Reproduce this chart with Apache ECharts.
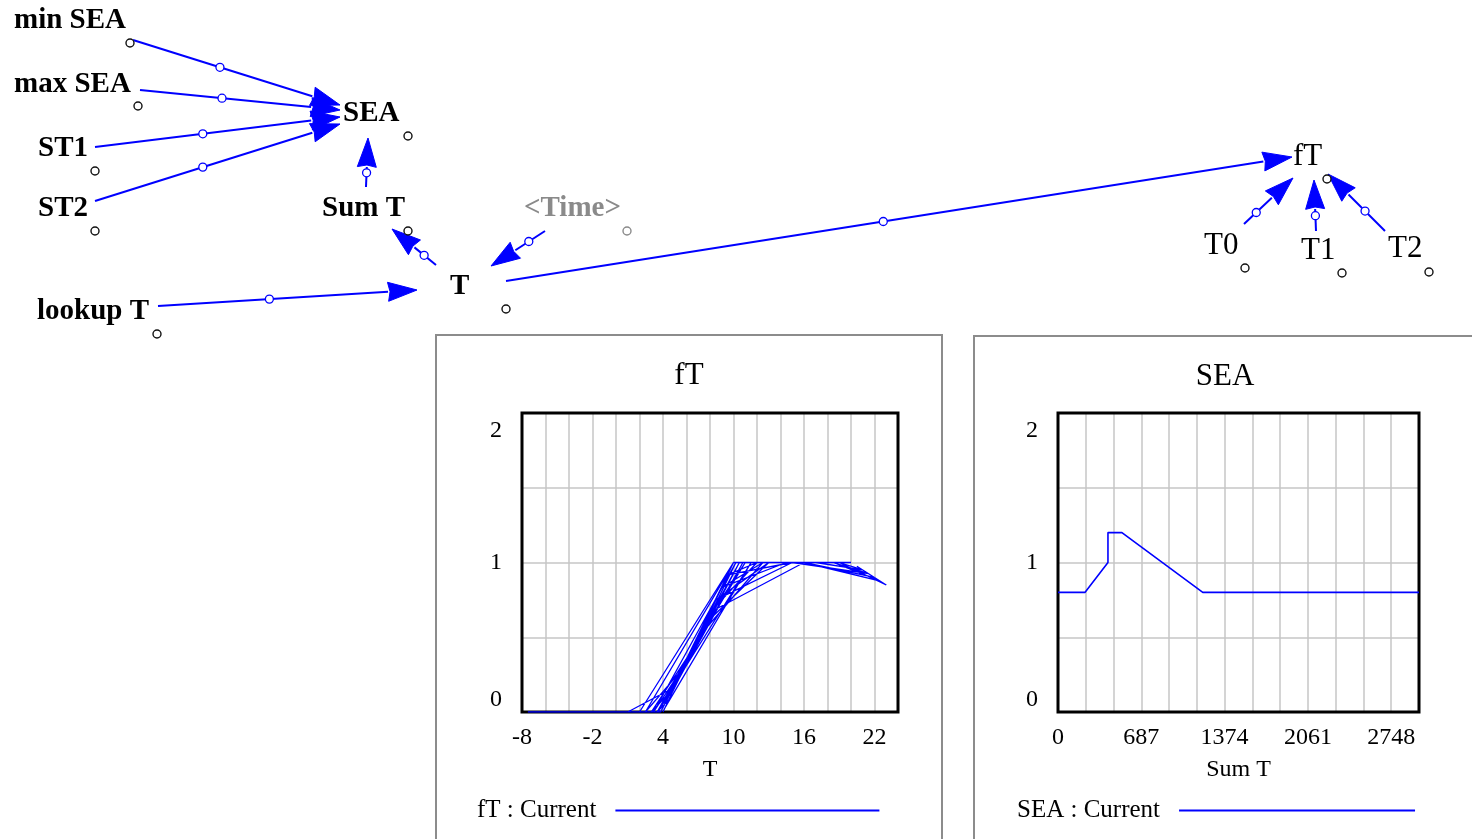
<!DOCTYPE html>
<html>
<head>
<meta charset="utf-8">
<title>fT and SEA</title>
<script src="https://cdn.jsdelivr.net/npm/echarts@6/dist/echarts.min.js"></script>
<style>
  html, body { margin: 0; padding: 0; background: #ffffff; }
  #chart { width: 1472px; height: 839px; }
</style>
</head>
<body>
<div id="chart"></div>
<script>
// fT against T: consecutive simulation steps, joined in time order
const fTTemps = [-7.5, -5.5, -4, -2, -3, 0, -1, 1.5, 3, 2, 10, 5, 3.5, 7, 4.5, 9, 5.5, 10.5, 6, 8,
  4, 6.5, 11, 7.5, 13, 8.5, 15, 9.5, 12, 8, 16, 10, 14, 18, 15.5, 20, 17, 21, 19, 23,
  20.5, 22, 16, 22.5, 18.5, 21.5, 15, 19.5, 13, 17.5, 11.5, 14.5, 9, 12.5, 7, 10.5, 6, 9.5, 5, 7.5,
  4, 6.5, 3, 5, 1, 3.5, 4.5, 10, 3.8, 8.5, 4.2, 11.5, 5.5, 9, 4.8, 10.2, 3.2, 6, 4.4, 7.2,
  3.6, 10.8, 5.2, 8.2, 4.6, 9.8, 2.5, 5.8, 3.8, 1, -1, -3, -6];
const fTValues = [0, 0, 0, 0, 0, 0, 0, 0, 0, 0, 1, 0.167, 0, 0.5, 0.083, 0.833, 0.25, 1, 0.333, 0.667,
  0, 0.417, 1, 0.583, 1, 0.75, 1, 0.917, 1, 0.667, 1, 1, 1, 1, 1, 1, 1, 0.95, 1, 0.85,
  0.975, 0.9, 1, 0.875, 1, 0.925, 1, 1, 1, 1, 1, 1, 0.833, 1, 0.5, 1, 0.333, 0.917, 0.167, 0.583,
  0, 0.417, 0, 0.167, 0, 0, 0.083, 1, 0, 0.75, 0.033, 1, 0.25, 0.833, 0.133, 1, 0, 0.333, 0.067, 0.533,
  0, 1, 0.2, 0.7, 0.1, 0.967, 0, 0.3, 0, 0, 0, 0, 0];

// SEA against accumulated temperature Sum T
const sumT = [0, 222, 412, 412, 527, 1194, 2977];
const seaValues = [0.8, 0.8, 1.0, 1.2, 1.2, 0.8, 0.8];

// axis labels
const fTLabelTicks = [-8, -2, 4, 10, 16, 22];
const sumTLabelTicks = [0, 687, 1374, 2061, 2748];
const yLabelTicks = [0, 1, 2];

// --- stock-and-flow diagram layout (screen pixels) ---
const SERIF = '"Liberation Serif", "Times New Roman", serif';
const BLUE = '#0000ff';

const diagramLabels = [
  { text: 'min SEA', x: 14, y: 21, bold: true },
  { text: 'max SEA', x: 14, y: 85, bold: true },
  { text: 'ST1', x: 38, y: 149, bold: true },
  { text: 'ST2', x: 38, y: 209, bold: true },
  { text: 'SEA', x: 343, y: 114, bold: true },
  { text: 'Sum T', x: 322, y: 209, bold: true },
  { text: '<Time>', x: 524, y: 209, bold: true, color: '#8a8a8a' },
  { text: 'T', x: 450, y: 287, bold: true },
  { text: 'lookup T', x: 37, y: 312, bold: true },
  { text: 'fT', x: 1293, y: 157, bold: false },
  { text: 'T0', x: 1204, y: 246, bold: false },
  { text: 'T1', x: 1301, y: 251, bold: false },
  { text: 'T2', x: 1388, y: 249, bold: false }
];

const nodeMarkers = [
  [130, 43], [138, 106], [95, 171], [95, 231], [408, 136], [408, 231],
  [506, 309], [157, 334], [1245, 268], [1342, 273], [1429, 272], [1327, 179]
];
const shadowMarkers = [[627, 231]];

const links = [
  { from: [133, 40], to: [340, 105], t: 0.42 },
  { from: [140, 90], to: [340, 110], t: 0.41 },
  { from: [95, 147], to: [340, 117], t: 0.44 },
  { from: [95, 201], to: [340, 124], t: 0.44 },
  { from: [366, 187], to: [368, 138], t: 0.29 },
  { from: [436, 265], to: [392, 229], t: 0.27 },
  { from: [545, 231], to: [491, 266], t: 0.30 },
  { from: [158, 306], to: [417, 290], t: 0.43 },
  { from: [506, 281], to: [1292, 157], t: 0.48 },
  { from: [1244, 224], to: [1293, 178], t: 0.25 },
  { from: [1316, 231], to: [1314, 180], t: 0.30 },
  { from: [1385, 231], to: [1328, 174], t: 0.35 }
];

// plot frames (same boxes as the grids below)
const plotBoxes = [
  { x: 522, y: 413, width: 376, height: 299 },
  { x: 1058, y: 413, width: 361, height: 299 }
];

function buildDiagram() {
  const els = [];
  // plot panels
  els.push({ type: 'rect', shape: { x: 436, y: 335, width: 506, height: 530 },
    style: { fill: 'none', stroke: '#8c8c8c', lineWidth: 2 }, z: 1 });
  els.push({ type: 'rect', shape: { x: 974, y: 336, width: 520, height: 530 },
    style: { fill: 'none', stroke: '#8c8c8c', lineWidth: 2 }, z: 1 });
  // black plot frames sit above the grid lines but under the data lines
  plotBoxes.forEach(function (b) {
    els.push({ type: 'rect', shape: b, style: { fill: 'none', stroke: '#000000', lineWidth: 3 }, z: 2.5 });
  });

  links.forEach(function (l) {
    const dx = l.to[0] - l.from[0], dy = l.to[1] - l.from[1];
    const len = Math.sqrt(dx * dx + dy * dy);
    const ux = dx / len, uy = dy / len;
    const headLen = 29, half = 9.5;
    const bx = l.to[0] - ux * headLen, by = l.to[1] - uy * headLen;
    els.push({ type: 'line', shape: { x1: l.from[0], y1: l.from[1], x2: bx, y2: by },
      style: { stroke: BLUE, lineWidth: 2 }, z: 2 });
    els.push({ type: 'polygon', shape: { points: [
      [l.to[0], l.to[1]],
      [bx - uy * half, by + ux * half],
      [bx + ux * 2, by + uy * 2],
      [bx + uy * half, by - ux * half]
    ] }, style: { fill: BLUE, stroke: BLUE, lineWidth: 1 }, z: 3 });
    els.push({ type: 'circle', shape: { cx: l.from[0] + dx * l.t, cy: l.from[1] + dy * l.t, r: 4 },
      style: { fill: '#ffffff', stroke: BLUE, lineWidth: 1.3 }, z: 4 });
  });

  nodeMarkers.forEach(function (p) {
    els.push({ type: 'circle', shape: { cx: p[0], cy: p[1], r: 4 },
      style: { fill: '#ffffff', stroke: '#111111', lineWidth: 1.4 }, z: 4 });
  });
  shadowMarkers.forEach(function (p) {
    els.push({ type: 'circle', shape: { cx: p[0], cy: p[1], r: 4 },
      style: { fill: '#ffffff', stroke: '#8a8a8a', lineWidth: 1.4 }, z: 4 });
  });

  diagramLabels.forEach(function (d) {
    els.push({ type: 'text', x: d.x, y: d.y, z: 5,
      style: { text: d.text, fill: d.color || '#000000',
        font: (d.bold ? 'bold 29px ' : '31px ') + SERIF,
        textAlign: 'left', textVerticalAlign: 'middle' } });
  });

  // plot titles
  els.push({ type: 'text', x: 689, y: 376, z: 5,
    style: { text: 'fT', fill: '#000', font: '31px ' + SERIF, textAlign: 'center', textVerticalAlign: 'middle' } });
  els.push({ type: 'text', x: 1225, y: 377, z: 5,
    style: { text: 'SEA', fill: '#000', font: '31px ' + SERIF, textAlign: 'center', textVerticalAlign: 'middle' } });
  return els;
}

const chart = echarts.init(document.getElementById('chart'), null, { renderer: 'canvas' });

const gridLine = { show: true, showMinLine: false, showMaxLine: false, lineStyle: { color: '#c6c6c6', width: 1.5 } };
const tickFont = { fontFamily: SERIF, fontSize: 24, color: '#000' };

function yAxisFor(gridIndex) {
  return {
    gridIndex: gridIndex, type: 'value', min: 0, max: 2, interval: 0.5,
    axisLine: { show: false }, axisTick: { show: false },
    splitLine: gridLine,
    axisLabel: Object.assign({}, tickFont, {
      margin: 20,
      verticalAlignMinLabel: 'bottom', verticalAlignMaxLabel: 'top',
      formatter: function (v) {
        if (v === 2) return '{top|2}';
        return yLabelTicks.indexOf(v) >= 0 ? String(v) : '';
      },
      rich: { top: { fontFamily: SERIF, fontSize: 24, color: '#000', padding: [6, 0, 0, 0] } }
    })
  };
}

chart.setOption({
  animation: false,
  backgroundColor: '#ffffff',
  graphic: { elements: buildDiagram() },
  grid: [
    { left: plotBoxes[0].x, top: plotBoxes[0].y, width: plotBoxes[0].width, height: plotBoxes[0].height },
    { left: plotBoxes[1].x, top: plotBoxes[1].y, width: plotBoxes[1].width, height: plotBoxes[1].height }
  ],
  xAxis: [
    {
      gridIndex: 0, type: 'value', min: -8, max: 24, interval: 2,
      name: 'T', nameLocation: 'middle', nameGap: 46,
      nameTextStyle: tickFont,
      axisLine: { show: false }, axisTick: { show: false },
      splitLine: gridLine,
      axisLabel: Object.assign({}, tickFont, {
        margin: 14,
        formatter: function (v) { return fTLabelTicks.indexOf(v) >= 0 ? String(v) : ''; }
      })
    },
    {
      gridIndex: 1, type: 'value', min: 0, max: 2977, interval: 229,
      name: 'Sum T', nameLocation: 'middle', nameGap: 46,
      nameTextStyle: tickFont,
      axisLine: { show: false }, axisTick: { show: false },
      splitLine: gridLine,
      axisLabel: Object.assign({}, tickFont, {
        margin: 14,
        formatter: function (v) { return sumTLabelTicks.indexOf(v) >= 0 ? String(v) : ''; }
      })
    }
  ],
  yAxis: [yAxisFor(0), yAxisFor(1)],
  legend: [
    {
      data: ['fT : Current'], left: 472, top: 793, align: 'right',
      icon: 'rect', itemWidth: 264, itemHeight: 2,
      textStyle: { fontFamily: SERIF, fontSize: 25, color: '#000', padding: [0, 14, 0, 0] },
      selectedMode: false
    },
    {
      data: ['SEA : Current'], left: 1012, top: 793, align: 'right',
      icon: 'rect', itemWidth: 236, itemHeight: 2,
      textStyle: { fontFamily: SERIF, fontSize: 25, color: '#000', padding: [0, 14, 0, 0] },
      selectedMode: false
    }
  ],
  series: [
    {
      name: 'fT : Current', type: 'line', xAxisIndex: 0, yAxisIndex: 0,
      data: fTTemps.map(function (t, i) { return [t, fTValues[i]]; }),
      showSymbol: false, color: BLUE, lineStyle: { width: 1.3, color: BLUE }, z: 3
    },
    {
      name: 'SEA : Current', type: 'line', xAxisIndex: 1, yAxisIndex: 1,
      data: sumT.map(function (s, i) { return [s, seaValues[i]]; }),
      showSymbol: false, color: BLUE, lineStyle: { width: 1.6, color: BLUE }, z: 3
    }
  ]
});
</script>
</body>
</html>
